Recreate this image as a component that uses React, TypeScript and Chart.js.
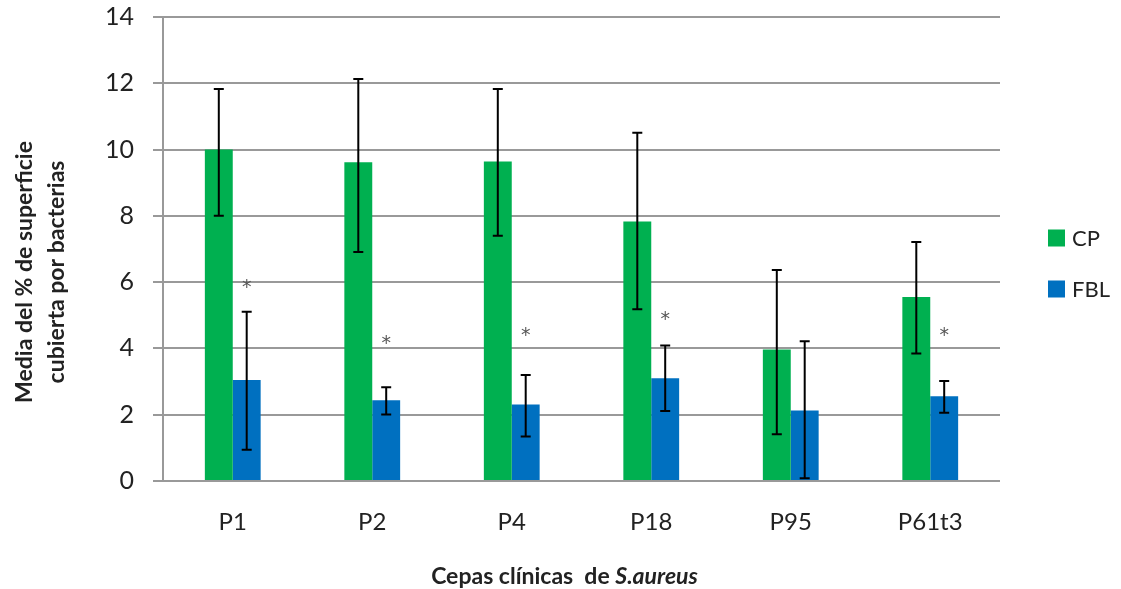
import React, { useEffect, useRef } from "react";
import { Chart, registerables } from "chart.js";

Chart.register(...registerables);

const categories = ["P1", "P2", "P4", "P18", "P95", "P61t3"];
const cpMeans = [10.0, 9.62, 9.64, 7.83, 3.97, 5.55];
const cpLow = [8.0, 6.91, 7.4, 5.18, 1.41, 3.85];
const cpHigh = [11.83, 12.13, 11.83, 10.51, 6.37, 7.21];
const fblMeans = [3.05, 2.44, 2.31, 3.1, 2.13, 2.56];
const fblLow = [0.94, 2.01, 1.34, 2.11, 0.08, 2.06];
const fblHigh = [5.11, 2.83, 3.2, 4.09, 4.22, 3.02];
const asteriskY: (number | null)[] = [5.95, 4.28, 4.5, 4.98, null, 4.5];
const seriesNames = ["CP", "FBL"];
const seriesColors = ["#00B050", "#0070C0"];
const yTitle = ["Media del % de superficie", "cubierta por bacterias"];
const xTitleParts = [
  { text: "Cepas clínicas  de ", italic: false },
  { text: "S.aureus", italic: true },
];

const FONT = "Lato, 'Open Sans', sans-serif";

const errorBarPlugin = {
  id: "errorBars",
  afterDatasetsDraw(chart: any) {
    const ctx = chart.ctx;
    const y = chart.scales.y;
    const lows = [cpLow, fblLow];
    const highs = [cpHigh, fblHigh];
    ctx.save();
    ctx.strokeStyle = "#000";
    ctx.lineWidth = 2;
    [0, 1].forEach((di) => {
      const meta = chart.getDatasetMeta(di);
      meta.data.forEach((bar: any, i: number) => {
        const x = bar.x;
        const yl = y.getPixelForValue(lows[di][i]);
        const yh = y.getPixelForValue(highs[di][i]);
        ctx.beginPath();
        ctx.moveTo(x, yl);
        ctx.lineTo(x, yh);
        ctx.moveTo(x - 5, yl);
        ctx.lineTo(x + 5, yl);
        ctx.moveTo(x - 5, yh);
        ctx.lineTo(x + 5, yh);
        ctx.stroke();
      });
    });
    // asterisks
    const meta = chart.getDatasetMeta(1);
    ctx.fillStyle = "#555";
    ctx.font = `19px 'DejaVu Sans', sans-serif`;
    ctx.textAlign = "center";
    ctx.textBaseline = "alphabetic";
    const m = ctx.measureText("*");
    const off = (m.actualBoundingBoxAscent - m.actualBoundingBoxDescent) / 2;
    meta.data.forEach((bar: any, i: number) => {
      const v = asteriskY[i];
      if (v == null) return;
      ctx.fillText("*", bar.x, y.getPixelForValue(v) + off);
    });
    ctx.restore();
  },
};

const extrasPlugin = {
  id: "extras",
  afterDraw(chart: any) {
    const ctx = chart.ctx;
    const area = chart.chartArea;
    ctx.save();
    // legend
    ctx.textBaseline = "middle";
    ctx.textAlign = "left";
    ctx.font = `22px ${FONT}`;
    const legendX = area.right + 48;
    const legendY0 = (area.top + area.bottom) / 2 - 11;
    seriesNames.forEach((name, i) => {
      const cy = legendY0 + i * 51;
      ctx.fillStyle = seriesColors[i];
      ctx.fillRect(legendX, cy - 8.5, 17, 17);
      ctx.fillStyle = "#222";
      ctx.fillText(name, legendX + 24, cy + 1);
    });
    // y title (two lines, rotated)
    ctx.save();
    ctx.fillStyle = "#222";
    ctx.font = `bold 23px ${FONT}`;
    ctx.textAlign = "center";
    ctx.textBaseline = "middle";
    const cyTitle = (area.top + area.bottom) / 2 + 23;
    ctx.translate(0, cyTitle);
    ctx.rotate(-Math.PI / 2);
    yTitle.forEach((line, i) => {
      ctx.fillText(line, 0, 25 + i * 32);
    });
    ctx.restore();
    // x title with italic part
    ctx.fillStyle = "#222";
    const fontFor = (italic: boolean) => `${italic ? "italic " : ""}bold 23px ${FONT}`;
    const widths = xTitleParts.map((p) => {
      ctx.font = fontFor(p.italic);
      return ctx.measureText(p.text).width;
    });
    const total = widths.reduce((a, b) => a + b, 0);
    let x = chart.width / 2 + 4 - total / 2;
    const ty = area.bottom + 96;
    ctx.textBaseline = "middle";
    ctx.textAlign = "left";
    xTitleParts.forEach((p, i) => {
      ctx.font = fontFor(p.italic);
      ctx.fillText(p.text, x, ty);
      x += widths[i];
    });
    ctx.restore();
  },
};

export default function App() {
  const ref = useRef<HTMLCanvasElement>(null);
  useEffect(() => {
    document.body.style.margin = "0";
    const chart = new Chart(ref.current!, {
      type: "bar",
      data: {
        labels: categories,
        datasets: [
          {
            label: seriesNames[0],
            data: cpMeans,
            backgroundColor: seriesColors[0],
            categoryPercentage: 0.4,
            barPercentage: 1.0,
          },
          {
            label: seriesNames[1],
            data: fblMeans,
            backgroundColor: seriesColors[1],
            categoryPercentage: 0.4,
            barPercentage: 1.0,
          },
        ],
      },
      options: {
        animation: false,
        responsive: false,
        layout: { padding: { top: 17, right: 121, bottom: 0, left: 0 } },
        plugins: {
          legend: { display: false },
          tooltip: { enabled: false },
        },
        scales: {
          x: {
            grid: { display: false, drawTicks: false },
            border: { display: false },
            ticks: {
              color: "#222",
              font: { family: FONT, size: 24 },
              padding: 27,
            },
            afterFit(scale: any) {
              scale.height = 108;
              scale.paddingLeft = 0;
              scale.paddingRight = 0;
            },
          },
          y: {
            min: 0,
            max: 14,
            ticks: {
              stepSize: 2,
              color: "#222",
              font: { family: FONT, size: 25 },
              padding: 19,
            },
            grid: {
              color: "#999",
              lineWidth: 2,
              tickLength: 10,
            },
            border: { display: true, color: "#999", width: 2 },
            afterFit(scale: any) {
              scale.width = 163;
              scale.paddingTop = 0;
              scale.paddingBottom = 0;
            },
          },
        },
      },
      plugins: [errorBarPlugin, extrasPlugin],
    });
    return () => chart.destroy();
  }, []);
  return (
    <div style={{ width: 1121, height: 589 }}>
      <canvas ref={ref} width={1121} height={589} style={{ display: "block" }} />
    </div>
  );
}
